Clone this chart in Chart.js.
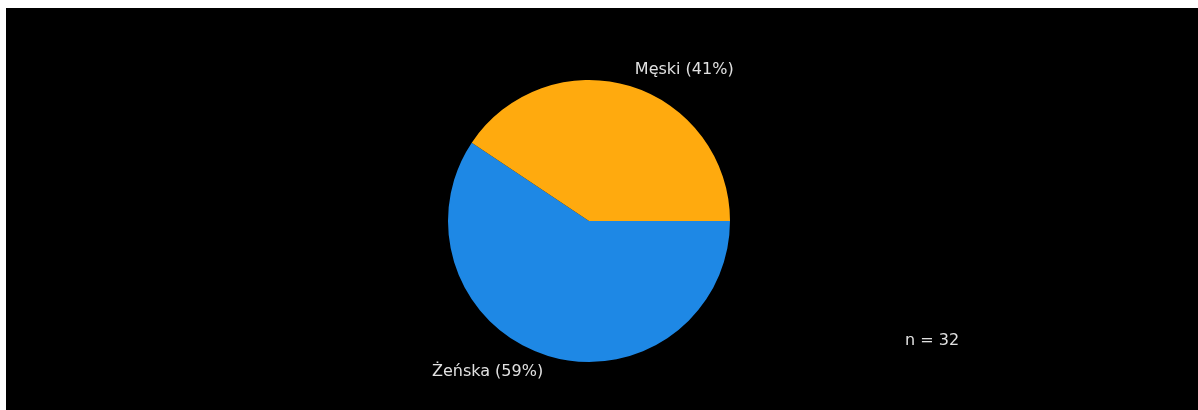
<!DOCTYPE html>
<html>
<head>
<meta charset="utf-8">
<script src="https://cdn.jsdelivr.net/npm/chart.js@4"></script>
<style>
    html, body { margin: 0; padding: 0; background: #ffffff; }
    .wrap {
        position: absolute;
        left: 6px;
        top: 8px;
        width: 1192px;
        height: 402px;
        background: #000000;
    }
</style>
</head>
<body>
<div class="wrap"><canvas class="pie-chart"></canvas></div>
<script>
// data (n = 32)
const categories = ['Żeńska', 'Męski'];
const counts = [19, 13];
const sliceColors = ['#1e88e5', '#ffaa0e'];
const total = counts.reduce((a, b) => a + b, 0);

// labels outside each slice, like "Męski (41%)"
const outsideLabels = {
    id: 'outsideLabels',
    afterDatasetsDraw(chart) {
        const ctx = chart.ctx;
        const meta = chart.getDatasetMeta(0);
        ctx.save();
        ctx.font = '16px "DejaVu Sans", sans-serif';
        ctx.fillStyle = '#e0e0e0';
        ctx.textBaseline = 'middle';
        meta.data.forEach((arc, i) => {
            const mid = (arc.startAngle + arc.endAngle) / 2;
            const r = arc.outerRadius * 1.12;
            const x = arc.x + Math.cos(mid) * r;
            const y = arc.y + Math.sin(mid) * r;
            const pct = Math.round(counts[i] / total * 100);
            ctx.textAlign = Math.cos(mid) >= 0 ? 'left' : 'right';
            ctx.fillText(categories[i] + ' (' + pct + '%)', x, y);
        });
        // total count in the lower right
        ctx.textAlign = 'left';
        ctx.fillText('n = ' + total, 899, 333);
        ctx.restore();
    }
};

new Chart(document.querySelector('.pie-chart'), {
    type: 'pie',
    data: {
        labels: categories,
        datasets: [{
            data: counts,
            backgroundColor: sliceColors,
            borderWidth: 0,
        }],
    },
    options: {
        responsive: true,
        maintainAspectRatio: false,
        animation: false,
        rotation: 90,
        layout: { padding: { top: 72, bottom: 48, left: 0, right: 26 } },
        plugins: {
            legend: { display: false },
            tooltip: { enabled: false },
        },
    },
    plugins: [outsideLabels],
});
</script>
</body>
</html>
